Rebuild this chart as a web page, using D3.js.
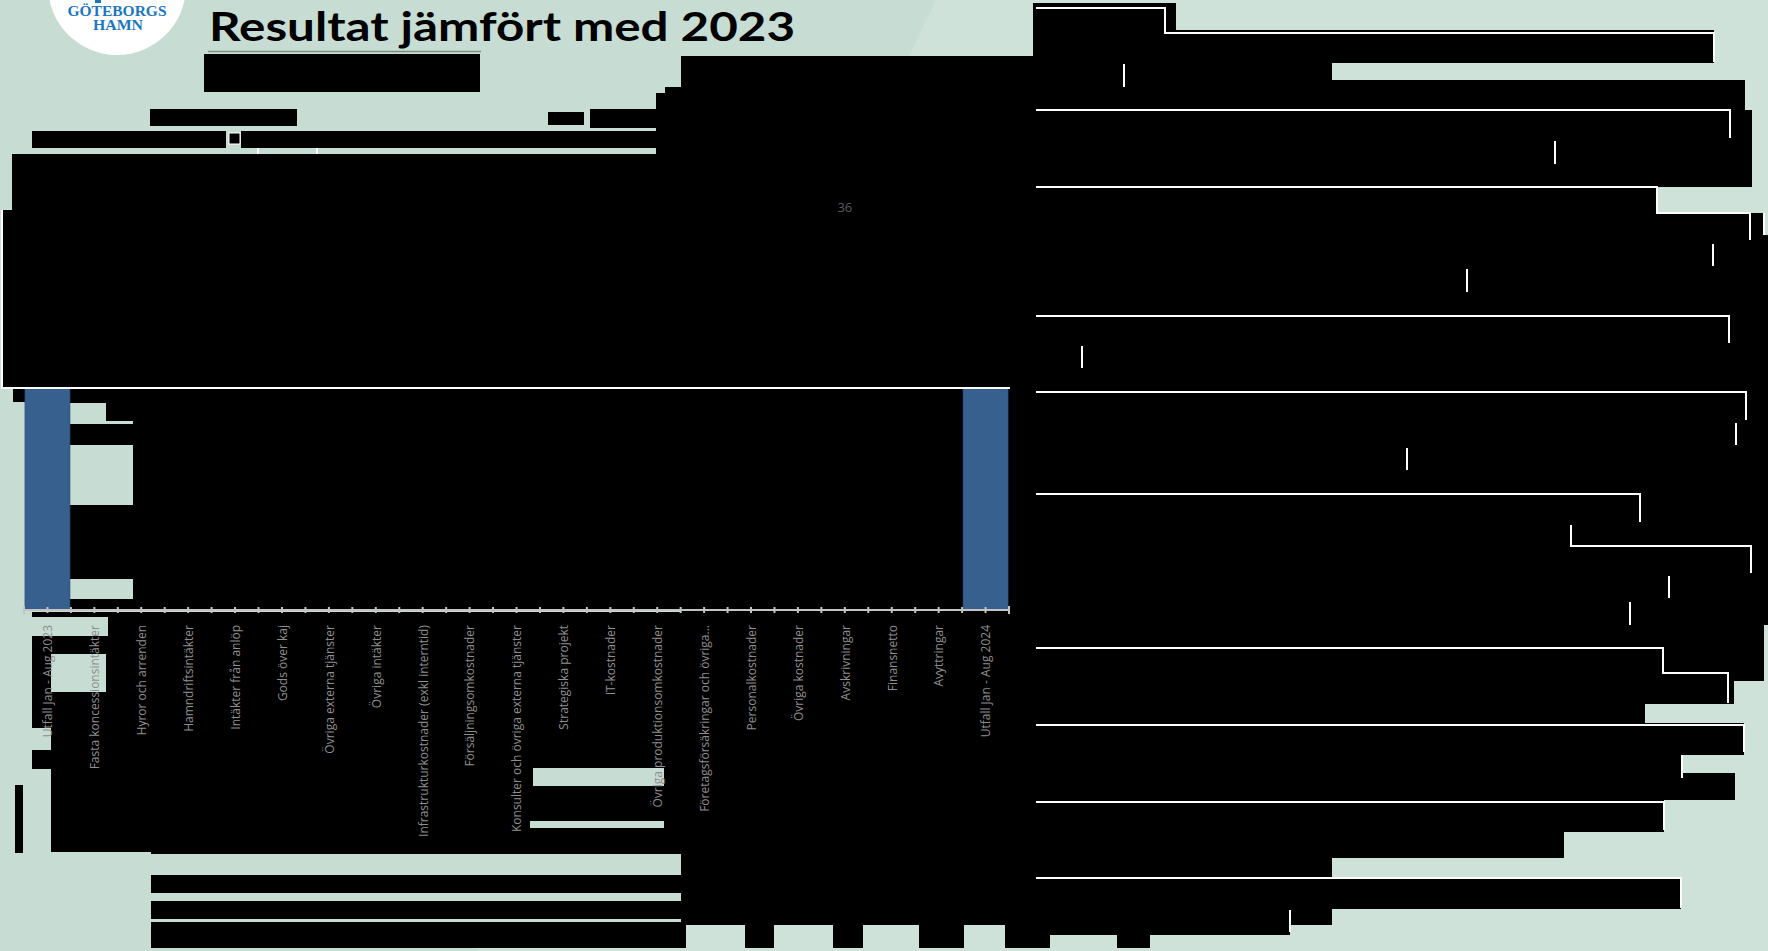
<!DOCTYPE html>
<html>
<head>
<meta charset="utf-8">
<script src="https://cdn.jsdelivr.net/npm/d3@7"></script>
<style>
	html, body { margin: 0; padding: 0; background: #c7dcd3; overflow: hidden; }
	svg { display: block; }
	.cat_label { font-family: "Open Sans", sans-serif; font-size: 12px; fill: #8f8f8f; }
	.val_label { font-family: "Open Sans", sans-serif; font-size: 13px; fill: #5a5a5a; }
</style>
</head>
<body>
<svg id="svg_chart" width="1768" height="951"></svg>
<script>
var categories = [
	"Utfall Jan - Aug 2023", "Fasta koncessionsintäkter", "Hyror och arrenden", "Hamndriftsintäkter",
	"Intäkter från anlöp", "Gods över kaj", "Övriga externa tjänster", "Övriga intäkter",
	"Infrastrukturkostnader (exkl interntid)", "Försäljningsomkostnader", "Konsulter och övriga externa tjänster",
	"Strategiska projekt", "IT-kostnader", "Övriga produktionsomkostnader", "Företagsförsäkringar och övriga...",
	"Personalkostnader", "Övriga kostnader", "Avskrivningar", "Finansnetto", "Avyttringar", "Utfall Jan - Aug 2024"
];
// only the two totals and one data label are readable, the rest is blacked out
var totalCats = ["Utfall Jan - Aug 2023", "Utfall Jan - Aug 2024"];
var totalValues = [300, 330];
var labelCats = ["Avskrivningar"];
var labelTexts = ["36"];
var labelLevels = [394];
var yDomain = [0, 450];

var options = {
	mint: "#c7dcd3",
	mintLight: "#cee2da",
	axisY: 610,
	plotTop: 160,
	xRange: [24, 1009]
};

// redacted areas of the slide, [x, y, w, h]
var redactLower = [
	[13, 389, 12, 13], [25, 389, 983, 221], [51, 612, 630, 240], [32, 612, 19, 116],
	[32, 750, 19, 19], [15, 785, 8, 68], [151, 852, 530, 96], [681, 389, 352, 536],
	[681, 925, 5, 23], [745, 925, 29, 23], [833, 925, 30, 23], [919, 925, 45, 23], [1005, 925, 45, 23]
];
var mintPatches = [
	[70, 403, 36, 18], [70, 421, 63, 3], [70, 445, 63, 60], [70, 579, 63, 20],
	[32, 617, 76, 19], [51, 654, 55, 38], [151, 854, 530, 21], [151, 893, 530, 8],
	[151, 919, 530, 3], [533, 768, 131, 18], [530, 821, 134, 7]
];
var redactUpper = [
	[204, 54, 276, 38], [150, 109, 147, 17], [548, 112, 36, 13], [590, 109, 76, 19],
	[32, 131, 194, 17], [241, 131, 424, 17], [656, 93, 25, 61], [665, 87, 16, 6],
	[12, 154, 669, 56], [2, 210, 679, 179], [681, 56, 352, 333],
	[1033, 3, 143, 60], [1176, 30, 538, 33], [1033, 63, 299, 17], [1033, 80, 712, 30],
	[1033, 110, 719, 77], [1033, 187, 624, 26], [1033, 213, 731, 22], [1033, 235, 735, 390],
	[1033, 625, 731, 56], [1033, 681, 701, 23], [1033, 704, 612, 19], [1033, 723, 711, 32],
	[1033, 755, 649, 18], [1033, 773, 702, 27], [1033, 800, 631, 32], [1033, 832, 531, 26],
	[1033, 858, 299, 19], [1033, 877, 648, 32], [1033, 909, 299, 16], [1033, 925, 257, 10],
	[1117, 935, 33, 13]
];
var whiteLines = [
	[[1036, 8], [1165, 8], [1165, 33], [1714, 33], [1714, 62]],
	[[1036, 110], [1730, 110], [1730, 138]],
	[[1036, 187], [1657, 187], [1657, 213], [1750, 213], [1750, 240]],
	[[1764, 213], [1764, 235]],
	[[1036, 316], [1729, 316], [1729, 343]],
	[[1036, 392], [1746, 392], [1746, 420]],
	[[1036, 494], [1640, 494], [1640, 522]],
	[[1571, 525], [1571, 546], [1751, 546], [1751, 573]],
	[[1036, 648], [1663, 648], [1663, 673], [1728, 673], [1728, 703]],
	[[1036, 725], [1744, 725], [1744, 752]],
	[[1682, 755], [1682, 778]],
	[[1036, 802], [1664, 802], [1664, 830]],
	[[1036, 878], [1681, 878], [1681, 908]],
	[[1290, 910], [1290, 932]],
	[[2, 210], [2, 388], [1010, 388]],
	[[1124, 64], [1124, 87]], [[1555, 141], [1555, 164]], [[1467, 269], [1467, 292]],
	[[1713, 244], [1713, 266]], [[1082, 346], [1082, 368]], [[1736, 423], [1736, 445]],
	[[1407, 448], [1407, 470]], [[1669, 576], [1669, 598]], [[1630, 602], [1630, 625]],
	[[258, 148], [258, 154]], [[317, 148], [317, 154]]
];

function drawRects(g, list, fill) {
	g.selectAll(null)
		.data(list).enter()
		.append("rect")
		.attr("x", function(d) { return d[0]; })
		.attr("y", function(d) { return d[1]; })
		.attr("width", function(d) { return d[2]; })
		.attr("height", function(d) { return d[3]; })
		.attr("fill", fill);
}

function initChart() {
	var svg = d3.select("#svg_chart");

	svg.append("rect").attr("width", 1768).attr("height", 951).attr("fill", options.mint);
	svg.append("path")
		.attr("d", "M936,0 L1768,0 L1768,951 L477,951 Z")
		.attr("fill", options.mintLight);

	var xScale = d3.scaleBand()
		.domain(categories)
		.range(options.xRange)
		.paddingInner(0.04)
		.paddingOuter(0.02);
	var yScale = d3.scaleLinear()
		.domain(yDomain)
		.range([options.axisY, options.plotTop]);

	var g_low = svg.append("g").attr("class", "redact_low");
	drawRects(g_low, redactLower, "#000");
	drawRects(g_low, mintPatches, options.mint);

	// total bars
	svg.append("g").attr("class", "bars")
		.selectAll("rect")
		.data(totalCats).enter()
		.append("rect")
		.attr("x", function(d) { return xScale(d); })
		.attr("y", function(d, i) { return yScale(totalValues[i]); })
		.attr("width", xScale.bandwidth())
		.attr("height", function(d, i) { return yScale(0) - yScale(totalValues[i]); })
		.attr("fill", "#37608f")
		.attr("stroke", "#2c4f7a")
		.attr("stroke-width", 0.6);

	var g_up = svg.append("g").attr("class", "redact_up");
	drawRects(g_up, redactUpper, "#000");
	g_up.append("rect")
		.attr("x", 229).attr("y", 133).attr("width", 11).attr("height", 11)
		.attr("fill", "#000").attr("stroke", "#fff").attr("stroke-width", 1);
	g_up.selectAll("path.border")
		.data(whiteLines).enter()
		.append("path")
		.attr("class", "border")
		.attr("d", d3.line())
		.attr("fill", "none")
		.attr("stroke", "#fff")
		.attr("stroke-width", 2);

	// axis with ticks at band edges and centres
	var g_axis = svg.append("g").attr("class", "axis");
	var step = xScale.step(),
		r = xScale.range();
	g_axis.append("line")
		.attr("x1", r[0]).attr("x2", r[1])
		.attr("y1", options.axisY).attr("y2", options.axisY)
		.attr("stroke", "#c4c4c4")
		.attr("stroke-width", 2);
	var tickPos = d3.range(categories.length * 2 + 1).map(function(i) { return r[0] + i * step / 2; });
	g_axis.selectAll("line.tick")
		.data(tickPos).enter()
		.append("line")
		.attr("class", "tick")
		.attr("x1", function(d) { return d; })
		.attr("x2", function(d) { return d; })
		.attr("y1", function(d, i) { return options.axisY - (i == 0 || i == tickPos.length - 1 ? 4 : 3); })
		.attr("y2", function(d, i) { return options.axisY + (i == 0 || i == tickPos.length - 1 ? 4 : 3); })
		.attr("stroke", "#c4c4c4")
		.attr("stroke-width", 2);

	svg.append("g").attr("class", "labels")
		.selectAll("text")
		.data(categories).enter()
		.append("text")
		.attr("class", "cat_label")
		.attr("transform", function(d) {
			return "translate(" + (xScale(d) + xScale.bandwidth() / 2) + "," + (options.axisY + 15) + ") rotate(-90)";
		})
		.attr("dy", "0.4em")
		.attr("text-anchor", "end")
		.text(function(d) { return d; });

	svg.append("g").attr("class", "values")
		.selectAll("text")
		.data(labelCats).enter()
		.append("text")
		.attr("class", "val_label")
		.attr("x", function(d) { return xScale(d) + xScale.bandwidth() / 2; })
		.attr("y", function(d, i) { return yScale(labelLevels[i]) - 4; })
		.attr("text-anchor", "middle")
		.text(function(d, i) { return labelTexts[i]; });

	// title and logo
	svg.append("line")
		.attr("x1", 208).attr("x2", 481).attr("y1", 51.5).attr("y2", 51.5)
		.attr("stroke", "#7f8c87").attr("stroke-width", 1.5);
	svg.append("text")
		.attr("x", 209).attr("y", 41)
		.attr("textLength", 586)
		.attr("lengthAdjust", "spacingAndGlyphs")
		.style("font-family", "Lato, 'Open Sans', sans-serif")
		.style("font-weight", 700)
		.style("font-size", "41px")
		.attr("fill", "#000")
		.text("Resultat jämfört med 2023");

	var logo = svg.append("g").attr("class", "logo");
	logo.append("circle").attr("cx", 117).attr("cy", -14).attr("r", 69).attr("fill", "#fff");
	logo.append("rect").attr("x", 95).attr("y", 0).attr("width", 6).attr("height", 3).attr("fill", "#1d76bd");
	logo.append("text")
		.attr("x", 117).attr("y", 16)
		.attr("text-anchor", "middle")
		.attr("textLength", 99)
		.attr("lengthAdjust", "spacingAndGlyphs")
		.style("font-family", "'Liberation Serif', serif")
		.style("font-weight", 700)
		.style("font-size", "14px")
		.attr("fill", "#1d76bd")
		.text("GÖTEBORGS");
	logo.append("text")
		.attr("x", 118).attr("y", 29.5)
		.attr("text-anchor", "middle")
		.attr("textLength", 50)
		.attr("lengthAdjust", "spacingAndGlyphs")
		.style("font-family", "'Liberation Serif', serif")
		.style("font-weight", 700)
		.style("font-size", "14px")
		.attr("fill", "#1d76bd")
		.text("HAMN");
}

initChart();
</script>
</body>
</html>
